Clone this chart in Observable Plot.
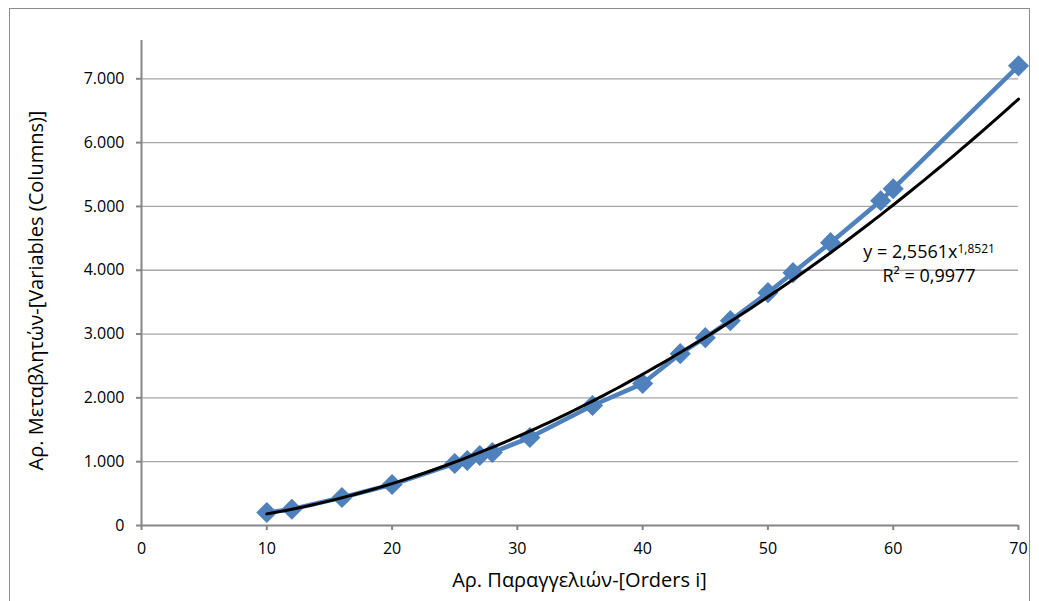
<!DOCTYPE html>
<html><head><meta charset="utf-8">
<script src="https://cdn.jsdelivr.net/npm/d3@7"></script>
<script src="https://cdn.jsdelivr.net/npm/@observablehq/plot@0.6"></script>
<style>
body{margin:0;background:#fff;}
#wrap{position:relative;width:1039px;height:601px;overflow:hidden;}
#border{position:absolute;left:9px;top:8px;width:1021px;height:620px;border:1px solid #8c8c8c;box-sizing:border-box;}
svg{position:absolute;left:0;top:0;}
</style></head>
<body><div id="wrap"><div id="border"></div></div>
<script>
const orders = [10, 12, 16, 20, 25, 26, 27, 28, 31, 36, 40, 43, 45, 47, 50, 52, 55, 59, 60, 70];
const variables = [204, 255, 438, 642, 971, 1018, 1096, 1143, 1378, 1880, 2224, 2693, 2944, 3210, 3649, 3962, 4432, 5089, 5277, 7203];
const yTicks = [0, 1000, 2000, 3000, 4000, 5000, 6000, 7000];
const xTicks = [0, 10, 20, 30, 40, 50, 60, 70];
const trendA = 2.5561, trendB = 1.8521;
const trendLabel = ["y = 2,5561x", "1,8521"];
const r2Label = "R² = 0,9977";
const xTitle = "Αρ. Παραγγελιών-[Orders i]";
const yTitle = "Αρ. Μεταβλητών-[Variables (Columns)]";

const data = orders.map((x, i) => ({x, y: variables[i]}));
const trend = d3.range(10, 70.001, 0.5).map(x => ({x, y: trendA * Math.pow(x, trendB)}));
const loc = d3.formatLocale({decimal: ",", thousands: ".", grouping: [3], currency: ["", "€"]});
const fmt = loc.format(",d");
const FONT = "'Open Sans', sans-serif";

const chart = Plot.plot({
  width: 1039, height: 601,
  marginLeft: 141, marginRight: 21, marginTop: 40, marginBottom: 76,
  style: {fontFamily: FONT, fontSize: "16px", color: "#000", background: "transparent"},
  x: {domain: [0, 70]},
  y: {domain: [0, 7600]},
  marks: [
    Plot.ruleY(yTicks.filter(d => d > 0), {stroke: "#a6a6a6", strokeWidth: 1.3}),
    Plot.ruleX([0], {stroke: "#868686", strokeWidth: 2}),
    Plot.ruleY([0], {stroke: "#868686", strokeWidth: 2}),
    Plot.axisY({ticks: yTicks, tickFormat: fmt, tickSize: 5, tickPadding: 12, stroke: "#868686", strokeWidth: 2, fill: "#000", label: null}),
    Plot.axisX({ticks: xTicks, tickSize: 5, tickPadding: 12, stroke: "#868686", strokeWidth: 2, fill: "#000", label: null}),
    Plot.line(data, {x: "x", y: "y", stroke: "#4f81bd", strokeWidth: 4.5}),
    Plot.dot(data, {x: "x", y: "y", symbol: "diamond2", r: 9.5, fill: "#4f81bd", stroke: "none"}),
    Plot.line(trend, {x: "x", y: "y", stroke: "#000", strokeWidth: 3, curve: "basis"})
  ]
});
document.getElementById("wrap").appendChild(chart);

const sx = chart.scale("x"), sy = chart.scale("y");
const svg = d3.select(chart);
const tx = sx.apply(62.9), ty1 = sy.apply(4278), ty2 = sy.apply(3902);
const t1 = svg.append("text").attr("x", tx).attr("y", ty1).attr("dy", "0.35em")
  .attr("text-anchor", "middle").attr("font-family", FONT).attr("font-size", 18).attr("fill", "#000");
t1.append("tspan").text(trendLabel[0]);
t1.append("tspan").attr("dy", "-0.45em").attr("font-size", 12).text(trendLabel[1]);
svg.append("text").attr("x", sx.apply(62.9)).attr("y", ty2).attr("dy", "0.35em")
  .attr("text-anchor", "middle").attr("font-family", FONT).attr("font-size", 18).attr("fill", "#000").text(r2Label);
svg.append("text").attr("x", (sx.apply(0) + sx.apply(70)) / 2).attr("y", 580).attr("dy", "0.35em")
  .attr("text-anchor", "middle").attr("font-family", FONT).attr("font-size", 20).attr("fill", "#000").text(xTitle);
svg.append("text").attr("transform", `translate(36,${(sy.apply(0) + sy.apply(7600)) / 2 + 8}) rotate(-90)`).attr("dy", "0.35em")
  .attr("text-anchor", "middle").attr("font-family", FONT).attr("font-size", 20).attr("fill", "#000").text(yTitle);
</script>
</body></html>
